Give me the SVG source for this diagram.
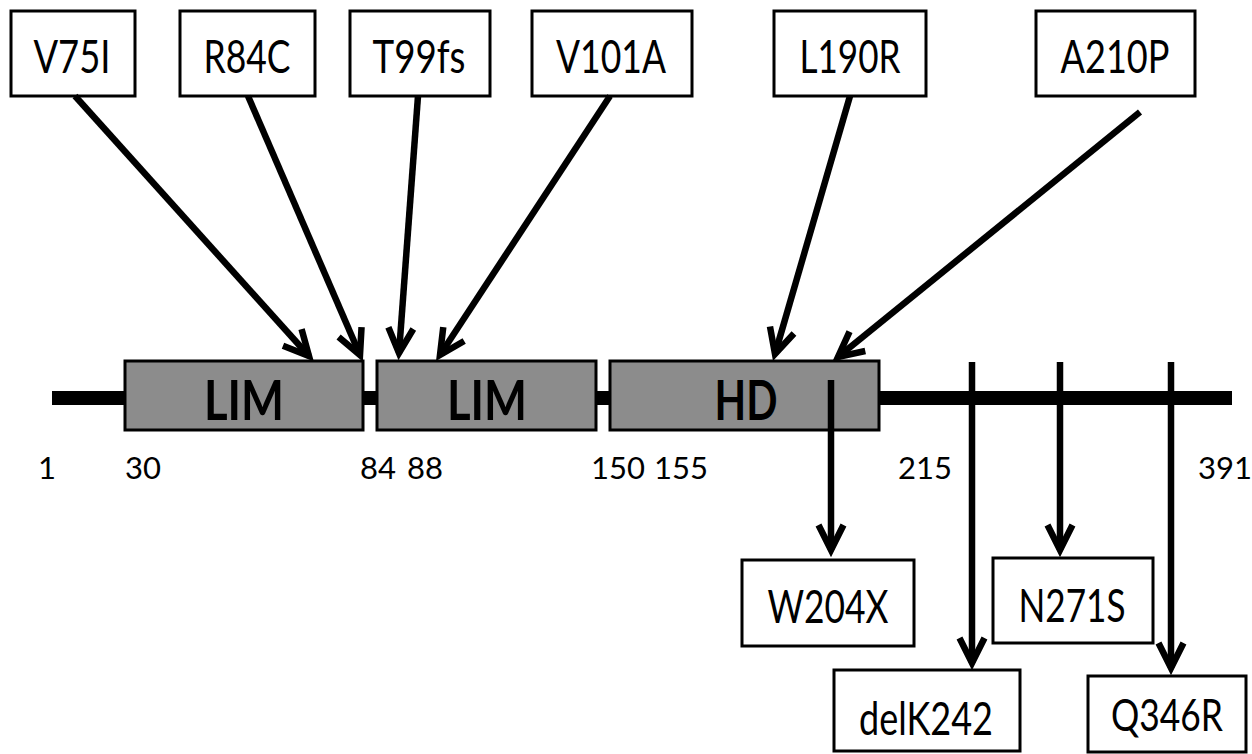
<svg xmlns="http://www.w3.org/2000/svg" width="1252" height="754" viewBox="0 0 1252 754">
<defs>
<style>
.lbl{fill:#fff;stroke:#000;stroke-width:3}
.dom{fill:#8c8c8c;stroke:#000;stroke-width:3}
.t{font-family:Lato,"Liberation Sans",sans-serif;font-size:46px;fill:#000;text-anchor:middle}
.d{font-family:Lato,"Liberation Sans",sans-serif;font-size:56px;font-weight:bold;fill:#000;text-anchor:middle}
.n{font-family:Lato,"Liberation Sans",sans-serif;font-size:31px;fill:#000;text-anchor:middle}
.c{stroke:#000;stroke-width:6.5;fill:none}
</style>
<marker id="ah" markerUnits="userSpaceOnUse" viewBox="-34 -20 44 40" refX="0" refY="0" markerWidth="44" markerHeight="40" orient="auto">
<path d="M-25,-12.5 L0,0 L-25,12.5" fill="none" stroke="#000" stroke-width="6.5" stroke-linejoin="miter"/>
</marker>
</defs>
<rect id="backbone" x="52" y="391" width="1180" height="14" fill="#000"/>
<g id="lim1"><rect class="dom" x="125" y="361" width="238" height="69"/><text class="d" x="244" y="420" textLength="80" lengthAdjust="spacingAndGlyphs">LIM</text></g>
<g id="lim2"><rect class="dom" x="377" y="361" width="219" height="69"/><text class="d" x="487" y="420" textLength="80" lengthAdjust="spacingAndGlyphs">LIM</text></g>
<g id="hd"><rect class="dom" x="610" y="361" width="269" height="69"/><text class="d" x="746" y="420" textLength="63" lengthAdjust="spacingAndGlyphs">HD</text></g>
<g id="positions">
<text class="n" x="47" y="479">1</text>
<text class="n" x="143" y="479">30</text>
<text class="n" x="378" y="479">84</text>
<text class="n" x="425" y="479">88</text>
<text class="n" x="618" y="479">150</text>
<text class="n" x="681" y="479">155</text>
<text class="n" x="925" y="479">215</text>
<text class="n" x="1225" y="479">391</text>
</g>
<g id="V75I"><rect class="lbl" x="11" y="11" width="124" height="85"/><text class="t" x="72" y="73" textLength="77" lengthAdjust="spacingAndGlyphs">V75I</text></g>
<g id="R84C"><rect class="lbl" x="180" y="11" width="135" height="85"/><text class="t" x="247" y="73" textLength="87" lengthAdjust="spacingAndGlyphs">R84C</text></g>
<g id="T99fs"><rect class="lbl" x="350" y="11" width="140" height="85"/><text class="t" x="419" y="73" textLength="93" lengthAdjust="spacingAndGlyphs">T99fs</text></g>
<g id="V101A"><rect class="lbl" x="532" y="11" width="160" height="85"/><text class="t" x="611" y="73" textLength="110" lengthAdjust="spacingAndGlyphs">V101A</text></g>
<g id="L190R"><rect class="lbl" x="774" y="11" width="152" height="85"/><text class="t" x="850" y="73" textLength="101" lengthAdjust="spacingAndGlyphs">L190R</text></g>
<g id="A210P"><rect class="lbl" x="1036" y="11" width="159" height="85"/><text class="t" x="1115" y="73" textLength="109" lengthAdjust="spacingAndGlyphs">A210P</text></g>
<g id="W204X"><rect class="lbl" x="742" y="560" width="172" height="86"/><text class="t" x="828" y="623" textLength="121" lengthAdjust="spacingAndGlyphs">W204X</text></g>
<g id="N271S"><rect class="lbl" x="993" y="558" width="160" height="85"/><text class="t" x="1072" y="622" textLength="107" lengthAdjust="spacingAndGlyphs">N271S</text></g>
<g id="delK242"><rect class="lbl" x="834" y="670" width="186" height="81"/><text class="t" x="926" y="735" textLength="134" lengthAdjust="spacingAndGlyphs">delK242</text></g>
<g id="Q346R"><rect class="lbl" x="1088" y="676" width="158" height="76"/><text class="t" x="1167" y="731" style="font-size:44px" textLength="112" lengthAdjust="spacingAndGlyphs">Q346R</text></g>
<g id="connectors" class="c" marker-end="url(#ah)">
<line x1="75" y1="96" x2="309" y2="356"/>
<line x1="248" y1="96" x2="360" y2="355"/>
<line x1="418" y1="96" x2="399" y2="353"/>
<line x1="610" y1="96" x2="440" y2="355"/>
<line x1="850" y1="96" x2="775" y2="354"/>
<line x1="1140" y1="112" x2="838" y2="357"/>
<line x1="831" y1="380" x2="831" y2="550"/>
<line x1="972" y1="362" x2="972" y2="663"/>
<line x1="1060" y1="362" x2="1060" y2="550"/>
<line x1="1171" y1="362" x2="1171" y2="668"/>
</g>
</svg>
